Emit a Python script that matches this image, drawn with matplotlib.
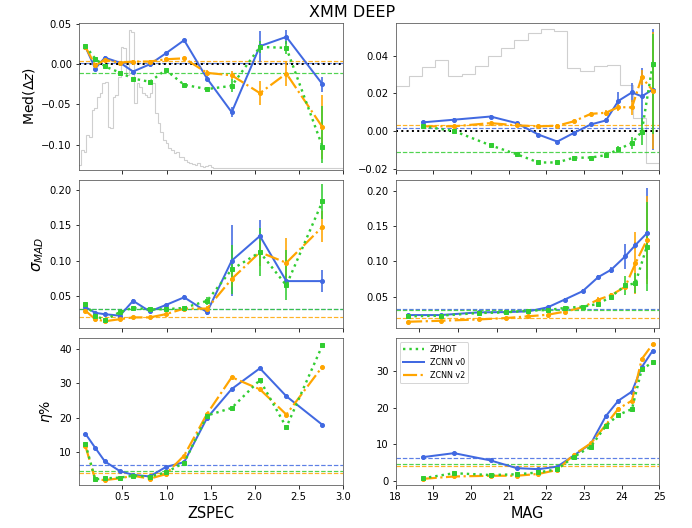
import numpy as np
import matplotlib.pyplot as plt
from matplotlib.lines import Line2D

# bin centres
zspec_bins = [0.08, 0.19, 0.30, 0.47, 0.62, 0.81, 0.99, 1.20, 1.46, 1.74, 2.06, 2.36, 2.77]
mag_bins = [18.72, 19.55, 20.52, 21.21, 21.79, 22.29, 22.72, 23.18, 23.58, 23.91, 24.27, 24.53, 24.82]

# median offset vs ZSPEC
med_zs_phot = [0.022, 0.0066, -0.003, -0.0106, -0.018, -0.022, -0.0074, -0.0257, -0.031, -0.027, 0.021, 0.020, -0.102]
med_zs_v0 = [0.021, -0.0056, 0.0078, 0.0017, -0.0093, -0.0004, 0.013, 0.0294, -0.018, -0.0596, 0.022, 0.0335, -0.025]
med_zs_v2 = [0.021, -0.0016, 0.005, 0.0017, 0.003, 0.003, 0.0058, 0.007, -0.011, -0.014, -0.036, -0.0118, -0.078]
err_med_zs_phot = [[0.002, 0.002, 0.002, 0.002, 0.002, 0.002, 0.002, 0.002, 0.003, 0.008, 0.008, 0.008, 0.020],
                   [0.002, 0.002, 0.002, 0.002, 0.002, 0.002, 0.002, 0.002, 0.003, 0.008, 0.008, 0.008, 0.050]]
err_med_zs_v0 = [0.002, 0.002, 0.002, 0.002, 0.002, 0.002, 0.002, 0.002, 0.003, 0.0065, 0.019, 0.009, 0.0095]
err_med_zs_v2 = [0.002, 0.002, 0.002, 0.002, 0.002, 0.002, 0.002, 0.002, 0.003, 0.005, 0.015, 0.016, 0.040]

# median offset vs MAG
med_mag_phot = [0.0025, 0.0, -0.0076, -0.0123, -0.0167, -0.0167, -0.0142, -0.0141, -0.0128, -0.0098, -0.0063, -0.0003, 0.0355]
med_mag_v0 = [0.0046, 0.006, 0.0077, 0.0042, -0.0019, -0.0056, -0.0011, 0.0035, 0.0056, 0.016, 0.0205, 0.0184, 0.022]
med_mag_v2 = [0.0025, 0.0025, 0.0042, 0.003, 0.0025, 0.0028, 0.0051, 0.0091, 0.0097, 0.0127, 0.0125, 0.0286, 0.0215]
err_med_mag_phot = [[0.0008, 0.0008, 0.0008, 0.0008, 0.0008, 0.0008, 0.001, 0.001, 0.0015, 0.002, 0.003, 0.007, 0.037],
                    [0.0008, 0.0008, 0.0008, 0.0008, 0.0008, 0.0008, 0.001, 0.001, 0.0015, 0.002, 0.003, 0.007, 0.016]]
err_med_mag_v0 = [0.0008, 0.0008, 0.0008, 0.0008, 0.0008, 0.0008, 0.001, 0.001, 0.0015, 0.0048, 0.005, 0.015, 0.032]
err_med_mag_v2 = [0.0008, 0.0008, 0.0008, 0.0008, 0.0008, 0.0008, 0.001, 0.001, 0.0015, 0.002, 0.004, 0.004, 0.031]

# sigma_MAD vs ZSPEC
sig_zs_phot = [0.038, 0.022, 0.016, 0.027, 0.033, 0.031, 0.031, 0.033, 0.043, 0.0875, 0.112, 0.065, 0.184]
sig_zs_v0 = [0.034, 0.026, 0.024, 0.022, 0.043, 0.028, 0.037, 0.048, 0.027, 0.100, 0.135, 0.071, 0.071]
sig_zs_v2 = [0.029, 0.017, 0.014, 0.017, 0.0195, 0.0195, 0.024, 0.032, 0.032, 0.074, 0.112, 0.097, 0.148]
err_sig_zs_phot = [[0.003, 0.002, 0.002, 0.002, 0.002, 0.002, 0.002, 0.002, 0.006, 0.035, 0.034, 0.021, 0.025],
                   [0.003, 0.002, 0.002, 0.002, 0.002, 0.002, 0.002, 0.002, 0.006, 0.035, 0.034, 0.050, 0.025]]
err_sig_zs_v0 = [0.002, 0.002, 0.002, 0.002, 0.002, 0.002, 0.002, 0.003, 0.004, 0.050, 0.023, 0.010, 0.016]
err_sig_zs_v2 = [0.002, 0.002, 0.002, 0.002, 0.002, 0.002, 0.002, 0.003, 0.004, 0.012, 0.020, 0.035, 0.022]

# sigma_MAD vs MAG
sig_mag_phot = [0.022, 0.023, 0.0267, 0.0276, 0.030, 0.031, 0.0338, 0.0357, 0.0395, 0.050, 0.0657, 0.069, 0.1205]
sig_mag_v0 = [0.0238, 0.0238, 0.0276, 0.028, 0.029, 0.0348, 0.0457, 0.0576, 0.0776, 0.088, 0.107, 0.123, 0.1395]
sig_mag_v2 = [0.0143, 0.0157, 0.0176, 0.0195, 0.022, 0.0243, 0.0286, 0.0348, 0.0457, 0.052, 0.064, 0.097, 0.130]
err_sig_mag_phot = [0.002, 0.001, 0.001, 0.001, 0.001, 0.002, 0.003, 0.003, 0.003, 0.004, 0.013, 0.014, 0.063]
err_sig_mag_v0 = [0.001, 0.001, 0.001, 0.001, 0.001, 0.0015, 0.002, 0.003, 0.003, 0.004, 0.018, 0.005, 0.065]
err_sig_mag_v2 = [0.001, 0.001, 0.001, 0.001, 0.001, 0.0015, 0.002, 0.002, 0.003, 0.003, 0.005, 0.044, 0.062]

# outlier fraction (%)
eta_zs_phot = [12.4, 2.2, 2.5, 2.7, 3.25, 3.0, 4.2, 7.0, 20.7, 22.9, 31.0, 17.3, 41.1]
eta_zs_v0 = [15.4, 11.35, 7.4, 4.6, 3.5, 3.05, 5.75, 7.2, 20.0, 28.4, 34.4, 26.3, 18.0]
eta_zs_v2 = [11.8, 2.2, 2.0, 2.5, 3.25, 2.4, 3.7, 9.1, 21.2, 31.8, 28.3, 21.0, 34.9]
eta_mag_phot = [0.7, 2.1, 1.6, 1.8, 2.3, 3.2, 6.5, 9.4, 15.1, 18.1, 19.7, 30.6, 32.5]
eta_mag_v0 = [6.5, 7.6, 5.6, 3.5, 3.2, 3.9, 6.9, 10.2, 17.8, 22.0, 24.5, 31.2, 35.7]
eta_mag_v2 = [0.55, 1.2, 1.4, 1.4, 1.9, 3.0, 7.1, 10.3, 15.4, 19.8, 22.0, 33.4, 37.5]

# whole-sample values (dashed reference lines)
med_all = {"phot": -0.011, "v0": 0.0017, "v2": 0.0031}
sig_all = {"phot": 0.031, "v0": 0.032, "v2": 0.020}
eta_all = {"phot": 4.7, "v0": 6.3, "v2": 4.05}

# sample distributions, relative height (fraction of the panel)
zspec_hist = [0.034, 0.136, 0.124, 0.238, 0.226, 0.407, 0.419, 0.498, 0.520, 0.588,
              0.600, 0.294, 0.283, 0.498, 0.509, 0.633, 0.837, 0.826, 0.645, 0.950,
              0.939, 0.452, 0.588, 0.566, 0.520, 0.509, 0.498, 0.520, 0.588, 0.385,
              0.317, 0.260, 0.204, 0.181, 0.147, 0.136, 0.113, 0.124, 0.090, 0.086,
              0.068, 0.057, 0.045, 0.038, 0.034, 0.045, 0.029, 0.023, 0.027, 0.034,
              0.023, 0.012]
mag_hist = [0.570, 0.638, 0.701, 0.747, 0.638, 0.652, 0.708, 0.774, 0.826, 0.882,
            0.928, 0.955, 0.943, 0.695, 0.674, 0.706, 0.713, 0.575, 0.355, 0.047]
zspec_edges = np.append(np.arange(len(zspec_hist)) * 0.03, 3.0)
mag_edges = np.linspace(18, 25, len(mag_hist) + 1)

STYLE = {
    "phot": dict(color="limegreen", ls=":", marker="s", lw=2.4, label="ZPHOT"),
    "v0": dict(color="royalblue", ls="-", marker="o", lw=2.0, label="ZCNN v0"),
    "v2": dict(color="orange", ls="-.", marker="o", lw=2.2, label="ZCNN v2"),
}
DRAW_ORDER = ["v0", "v2", "phot"]


def draw_panel(ax, x, series, errors, overall):
    for key in DRAW_ORDER:
        st = STYLE[key]
        yerr = None if errors is None else np.asarray(errors[key])
        ax.errorbar(x, series[key], yerr=yerr, color=st["color"], ls=st["ls"],
                    lw=st["lw"], marker=st["marker"], ms=4, elinewidth=1.6,
                    capsize=0, zorder=3)
        ax.axhline(overall[key], color=st["color"], ls="--", lw=1.2, alpha=0.85, zorder=2)


def draw_hist(ax, values, edges):
    ax.stairs(values, edges, baseline=0, fill=False, color="0.78", lw=1.1,
              alpha=0.85, transform=ax.get_xaxis_transform(), zorder=1)


fig, axes = plt.subplots(3, 2, figsize=(692 / 72, 528 / 72), dpi=72)
fig.subplots_adjust(left=0.114, right=0.953, bottom=0.081, top=0.957,
                    wspace=0.2, hspace=0.07)

(ax_mz, ax_mm), (ax_sz, ax_sm), (ax_ez, ax_em) = axes

draw_hist(ax_mz, zspec_hist, zspec_edges)
draw_panel(ax_mz, zspec_bins, {"phot": med_zs_phot, "v0": med_zs_v0, "v2": med_zs_v2},
           {"phot": err_med_zs_phot, "v0": err_med_zs_v0, "v2": err_med_zs_v2}, med_all)
ax_mz.axhline(0, color="k", ls=":", lw=2, zorder=2.5)

draw_hist(ax_mm, mag_hist, mag_edges)
draw_panel(ax_mm, mag_bins, {"phot": med_mag_phot, "v0": med_mag_v0, "v2": med_mag_v2},
           {"phot": err_med_mag_phot, "v0": err_med_mag_v0, "v2": err_med_mag_v2}, med_all)
ax_mm.axhline(0, color="k", ls=":", lw=2, zorder=2.5)

draw_panel(ax_sz, zspec_bins, {"phot": sig_zs_phot, "v0": sig_zs_v0, "v2": sig_zs_v2},
           {"phot": err_sig_zs_phot, "v0": err_sig_zs_v0, "v2": err_sig_zs_v2}, sig_all)
draw_panel(ax_sm, mag_bins, {"phot": sig_mag_phot, "v0": sig_mag_v0, "v2": sig_mag_v2},
           {"phot": err_sig_mag_phot, "v0": err_sig_mag_v0, "v2": err_sig_mag_v2}, sig_all)

draw_panel(ax_ez, zspec_bins, {"phot": eta_zs_phot, "v0": eta_zs_v0, "v2": eta_zs_v2},
           None, eta_all)
draw_panel(ax_em, mag_bins, {"phot": eta_mag_phot, "v0": eta_mag_v0, "v2": eta_mag_v2},
           None, eta_all)

for ax in (ax_mz, ax_sz, ax_ez):
    ax.set_xlim(0.005, 3.001)
ax_mm.set_xlim(18, 25)
ax_em.set_xlim(18, 25)
ax_sm.set_xlim(18.40, 25.145)

ax_mz.set_ylim(-0.131, 0.051)
ax_mm.set_ylim(-0.0207, 0.0575)
ax_sz.set_ylim(0.005, 0.214)
ax_sm.set_ylim(0.006, 0.2147)
ax_ez.set_ylim(0.5, 43.2)
ax_em.set_ylim(-1.2, 39.2)

for ax in axes[:2].ravel():
    ax.tick_params(labelbottom=False)
for ax in axes.ravel():
    ax.tick_params(labelsize=10)
    for sp in ax.spines.values():
        sp.set_color("0.35")

ax_mz.set_ylabel(r"Med($\Delta z$)", fontsize=14)
ax_sz.set_ylabel(r"$\sigma_{MAD}$", fontsize=15)
ax_ez.set_ylabel(r"$\eta$%", fontsize=14)
ax_ez.set_xlabel("ZSPEC", fontsize=14.5)
ax_em.set_xlabel("MAG", fontsize=14.5)

handles = [Line2D([], [], color=STYLE[k]["color"], ls=STYLE[k]["ls"], lw=STYLE[k]["lw"])
           for k in ("phot", "v0", "v2")]
ax_em.legend(handles, [STYLE[k]["label"] for k in ("phot", "v0", "v2")],
             loc="upper left", fontsize=8, handlelength=2.6)

fig.suptitle("XMM DEEP", x=0.509, y=0.977, va="center", fontsize=16)

fig.savefig("out.png", dpi=72)
